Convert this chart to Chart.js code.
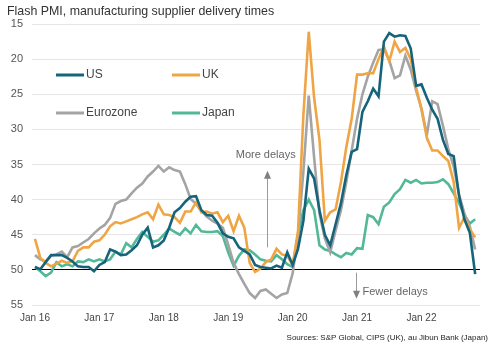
<!DOCTYPE html>
<html>
<head>
<meta charset="utf-8">
<script src="https://cdn.jsdelivr.net/npm/chart.js@4.4.1/dist/chart.umd.min.js"></script>
<style>
html, body { margin: 0; padding: 0; background: #fff; }
</style>
</head>
<body>
<canvas id="pmi-canvas" width="499" height="350"></canvas>
<script>
// months since Jan 2016 (0 = Jan 16 ... 82 = Nov 22)
const tick_months = [0, 12, 24, 36, 48, 60, 72];
const tick_labels = ['Jan 16', 'Jan 17', 'Jan 18', 'Jan 19', 'Jan 20', 'Jan 21', 'Jan 22'];

const us_values = [
    49.6, 49.9, 48.9, 47.9, 47.9, 47.9, 48.3, 48.8, 49.5, 49.6, 49.6, 50.2,
    49.3, 48.9, 47.1, 47.4, 47.9, 47.8, 47.2, 46.5, 45.0, 44.0, 46.8, 46.5,
    45.8, 44.0, 41.8, 41.2, 40.3, 39.6, 39.5, 41.5, 42.2, 42.3, 43.3, 44.8,
    45.3, 45.5, 46.8, 47.3, 47.8, 49.3, 49.6, 49.7, 49.8, 49.4, 49.7, 47.5,
    49.3, 47.0, 43.0, 35.6, 37.0, 41.5, 45.0, 46.5, 43.5, 40.5, 36.5, 33.2,
    32.8, 27.5, 26.0, 24.2, 25.3, 17.5, 16.3, 16.8, 16.6, 16.7, 18.5, 23.8,
    23.6, 25.5, 27.2, 28.5, 31.5, 33.5, 33.8, 39.5, 42.8, 44.7, 50.6
];
const uk_values = [
    45.6, 48.3, 49.0, 49.5, 49.1, 48.7, 49.0, 48.8, 47.3, 46.8, 46.8, 46.0,
    45.8, 45.0, 43.8, 43.2, 43.4, 43.1, 42.8, 42.5, 42.1, 41.8, 42.8, 40.7,
    42.1, 42.2, 42.5, 43.3, 41.7, 41.7, 40.4, 41.8, 41.7, 42.0, 41.8, 43.2,
    42.3, 44.5, 42.3, 44.0, 49.0, 50.3, 49.8, 48.9, 48.5, 47.0, 47.8, 48.0,
    49.3, 44.5, 28.0, 16.1, 25.5, 31.5, 43.0, 41.8, 41.4, 37.5, 32.5, 28.5,
    22.2, 22.2, 22.0, 22.0, 20.0, 18.2, 20.3, 17.5, 19.0, 18.4, 20.0, 24.0,
    27.2, 31.2, 33.0, 33.0, 33.8, 34.5, 37.5, 44.0, 42.5, 44.2, 45.4
];
const ez_values = [
    47.9, 48.5, 48.8, 48.0, 47.8, 47.4, 48.2, 46.8, 46.6, 46.1, 45.6, 44.8,
    44.1, 43.6, 42.6, 40.6, 40.2, 40.0, 39.1, 38.3, 37.7, 36.7, 36.0, 35.2,
    36.0, 35.4, 35.8, 36.0, 37.8, 39.9, 40.6, 41.6, 42.4, 43.0, 43.4, 44.0,
    46.4, 49.0, 50.6, 52.0, 53.3, 54.0, 53.0, 52.8, 53.4, 54.0, 53.5, 53.3,
    50.5, 45.0, 36.0, 25.2, 34.0, 42.0, 45.5, 47.5, 44.4, 41.5, 37.5, 33.0,
    28.5, 25.0, 22.5, 20.5, 18.7, 18.6, 20.2, 22.7, 22.3, 19.5, 21.5, 24.5,
    27.0, 30.8, 26.0, 26.4, 29.5, 32.8, 35.3, 39.3, 42.0, 43.8, 47.1
];
const jp_values = [
    49.6, 50.2, 50.9, 50.4, 48.9, 49.5, 49.2, 49.5, 48.8, 48.9, 48.5, 48.8,
    48.5, 48.8, 48.5, 47.4, 47.8, 46.2, 46.8, 45.6, 44.6, 45.3, 46.0, 45.8,
    45.0, 44.1, 44.6, 45.0, 44.1, 44.8, 43.6, 44.5, 44.6, 44.6, 44.5, 45.2,
    47.5, 49.4, 48.0, 47.1, 47.2, 47.8, 48.5, 48.7, 48.8, 47.9, 48.5, 49.2,
    49.6, 45.0, 41.5, 40.0, 41.5, 46.5, 47.1, 47.3, 47.8, 48.2, 47.6, 47.8,
    46.9, 47.0, 42.2, 42.5, 43.5, 41.0, 40.4, 39.2, 38.5, 37.2, 37.6, 37.2,
    37.7, 37.6, 37.6, 37.5, 37.1, 37.8, 39.1, 40.5, 42.2, 43.4, 42.8
];

const FONT = '"Liberation Sans", Arial, sans-serif';

function toPoints(values) {
    return values.map((v, i) => ({ x: i, y: v }));
}

// title, 2x2 legend and the two arrow notes
const decorPlugin = {
    id: 'decor',
    beforeDatasetsDraw(chart) {
        const ctx = chart.ctx;
        const xs = chart.scales.x, ys = chart.scales.y;
        ctx.save();
        ctx.strokeStyle = '#9a9a9a';
        ctx.fillStyle = '#808080';
        ctx.lineWidth = 1;
        // more delays
        let ax = Math.round(xs.getPixelForValue(43.2)) + 0.5;
        ctx.beginPath();
        ctx.moveTo(ax, ys.getPixelForValue(36.6));
        ctx.lineTo(ax, ys.getPixelForValue(46.8));
        ctx.stroke();
        let tip = ys.getPixelForValue(35.9);
        ctx.beginPath();
        ctx.moveTo(ax, tip);
        ctx.lineTo(ax - 3.5, tip + 8);
        ctx.lineTo(ax + 3.5, tip + 8);
        ctx.closePath();
        ctx.fill();
        // fewer delays
        ax = Math.round(xs.getPixelForValue(59.8)) + 0.5;
        ctx.beginPath();
        ctx.moveTo(ax, ys.getPixelForValue(50.4));
        ctx.lineTo(ax, ys.getPixelForValue(53.2));
        ctx.stroke();
        tip = ys.getPixelForValue(54.1);
        ctx.beginPath();
        ctx.moveTo(ax, tip);
        ctx.lineTo(ax - 3.5, tip - 8);
        ctx.lineTo(ax + 3.5, tip - 8);
        ctx.closePath();
        ctx.fill();

        ctx.fillStyle = '#666';
        ctx.font = '11px ' + FONT;
        ctx.textBaseline = 'middle';
        ctx.textAlign = 'left';
        ctx.fillText('More delays', xs.getPixelForValue(37.4), ys.getPixelForValue(33.6));
        ctx.fillText('Fewer delays', xs.getPixelForValue(61.0), ys.getPixelForValue(53.2));
        ctx.restore();
    },
    afterDraw(chart) {
        const ctx = chart.ctx;
        ctx.save();
        ctx.fillStyle = '#333';
        ctx.font = '12.4px ' + FONT;
        ctx.textBaseline = 'middle';
        ctx.fillText('Flash PMI, manufacturing supplier delivery times', 7, 12);

        const cols = [56, 172];
        const rows = [75, 113];
        ctx.font = '12px ' + FONT;
        chart.data.datasets.forEach((ds, i) => {
            const x = cols[i % 2], y = rows[Math.floor(i / 2)];
            ctx.strokeStyle = ds.borderColor;
            ctx.lineWidth = 3;
            ctx.beginPath();
            ctx.moveTo(x, y);
            ctx.lineTo(x + 28, y);
            ctx.stroke();
            ctx.fillStyle = '#444';
            ctx.fillText(ds.label, x + 30, y);
        });

        ctx.fillStyle = '#222';
        ctx.font = '8px ' + FONT;
        ctx.textAlign = 'right';
        ctx.fillText('Sources: S&P Global, CIPS (UK), au Jibun Bank (Japan)', 488, 338);
        ctx.restore();
    }
};

const pmi_config = {
    type: 'line',
    data: {
        datasets: [
            { label: 'US', data: toPoints(us_values), borderColor: '#16647b', order: 0 },
            { label: 'UK', data: toPoints(uk_values), borderColor: '#f0a545', order: 1 },
            { label: 'Eurozone', data: toPoints(ez_values), borderColor: '#a4a4a4', order: 2 },
            { label: 'Japan', data: toPoints(jp_values), borderColor: '#52b898', order: 3 }
        ]
    },
    options: {
        responsive: false,
        animation: false,
        devicePixelRatio: 1,
        layout: { padding: { top: 24, right: 19, left: 0, bottom: 0 } },
        elements: {
            point: { radius: 0, hoverRadius: 0 },
            line: { borderWidth: 2.6, tension: 0, fill: false }
        },
        plugins: {
            legend: { display: false },
            title: { display: false },
            tooltip: { enabled: false }
        },
        scales: {
            x: {
                type: 'linear',
                min: -0.55,
                max: 82.9,
                grid: { display: false, drawTicks: false },
                border: { display: false },
                afterBuildTicks: (scale) => {
                    scale.ticks = tick_months.map(v => ({ value: v }));
                },
                afterFit: (scale) => { scale.height = 45; },
                ticks: {
                    padding: 7,
                    color: '#444',
                    font: { family: FONT, size: 10 },
                    maxRotation: 0,
                    autoSkip: false,
                    callback: (v) => tick_labels[tick_months.indexOf(v)]
                }
            },
            y: {
                reverse: true,
                min: 15,
                max: 55,
                grid: {
                    drawTicks: false,
                    color: (c) => (c.tick && c.tick.value === 50) ? '#000' : '#e6e6e6',
                    lineWidth: 1
                },
                border: { display: false },
                afterFit: (scale) => { scale.width = 32; },
                ticks: {
                    stepSize: 5,
                    padding: 9,
                    color: '#555',
                    font: { family: FONT, size: 11 }
                }
            }
        }
    },
    plugins: [decorPlugin]
};

const pmi_ctx = document.getElementById('pmi-canvas');
let pmi_chart = new Chart(pmi_ctx, pmi_config);
</script>
</body>
</html>
